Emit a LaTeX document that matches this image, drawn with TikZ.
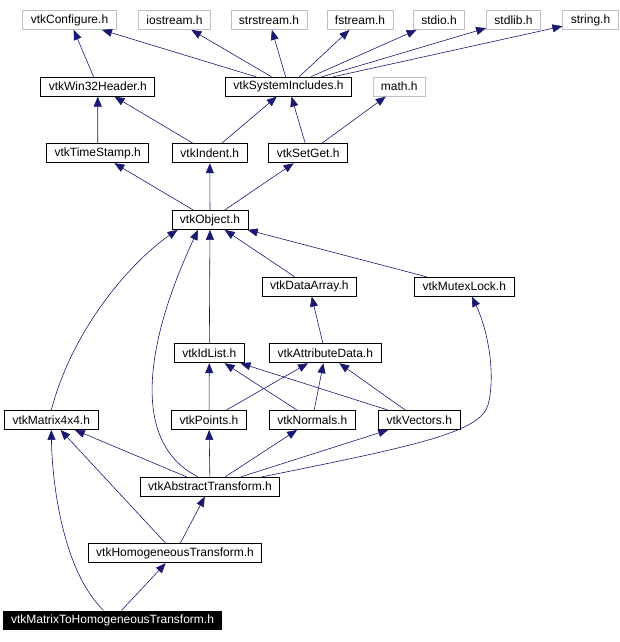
\documentclass[tikz,border=0pt]{standalone}
\usepackage{fontspec}
\setmainfont{Liberation Sans}
\usetikzlibrary{positioning,arrows.meta}
\definecolor{edgeblue}{HTML}{191970}

\begin{document}
\begin{tikzpicture}[x=1pt, y=-1pt,
      every node/.style={font=\fontsize{12}{14}\selectfont, inner xsep=8pt,
                         inner ysep=0pt, minimum height=19pt},
      hdr/.style={draw, line width=0.8pt},
      syshdr/.style={draw=black!25, line width=0.8pt},
      root/.style={fill=black, text=white},
      dep/.style={-{Triangle[length=10pt, width=8pt]}, draw=edgeblue, line width=0.6pt},
  ]
    \useasboundingbox (0,0) rectangle (620,642);

    % system / external headers
    \node[syshdr] (cfg)    at (69.5,20)   {vtkConfigure.h};
    \node[syshdr] (ios)    at (174.5,20)  {iostream.h};
    \node[syshdr] (sstr)   at (269,20)    {strstream.h};
    \node[syshdr] (fstr)   at (360,20)    {fstream.h};
    \node[syshdr] (stdio)  at (439,20)    {stdio.h};
    \node[syshdr] (stdlib) at (513.5,20)  {stdlib.h};
    \node[syshdr] (str)    at (590.5,20)  {string.h};
    \node[syshdr] (math)   at (399.3,86.7) {math.h};

    % vtk headers
    \node[hdr] (win)    at (97.8,86.7)  {vtkWin32Header.h};
    \node[hdr] (sysinc) at (288.5,86.7) {vtkSystemIncludes.h};
    \node[hdr] (tstamp) at (97.7,153.3) {vtkTimeStamp.h};
    \node[hdr] (indent) at (209.8,153.3) {vtkIndent.h};
    \node[hdr] (setget) at (308.2,153.3) {vtkSetGet.h};
    \node[hdr] (obj)    at (210,220)    {vtkObject.h};
    \node[hdr] (darr)   at (309.3,286.7) {vtkDataArray.h};
    \node[hdr] (mutex)  at (464.3,286.7) {vtkMutexLock.h};
    \node[hdr] (idl)    at (209.3,353.3) {vtkIdList.h};
    \node[hdr] (attr)   at (325.3,353.3) {vtkAttributeData.h};
    \node[hdr] (m44)    at (51.3,420)   {vtkMatrix4x4.h};
    \node[hdr] (pts)    at (209,420)    {vtkPoints.h};
    \node[hdr] (nrm)    at (312.3,420)  {vtkNormals.h};
    \node[hdr] (vec)    at (419.3,420)  {vtkVectors.h};
    \node[hdr] (abst)   at (210,486.7)  {vtkAbstractTransform.h};
    \node[hdr] (homog)  at (175,553.3)  {vtkHomogeneousTransform.h};
    \node[root] (m2h)   at (112.5,620)  {vtkMatrixToHomogeneousTransform.h};

    \draw[dep] (win) -- (cfg);
    \draw[dep] (sysinc) -- (cfg);
    \draw[dep] (sysinc) -- (ios);
    \draw[dep] (sysinc) -- (sstr);
    \draw[dep] (sysinc) -- (fstr);
    \draw[dep] (sysinc) -- (stdio);
    \draw[dep] (sysinc) -- (stdlib);
    \draw[dep] (sysinc) -- (str);
    \draw[dep] (tstamp) -- (win);
    \draw[dep] (indent) -- (win);
    \draw[dep] (indent) -- (sysinc);
    \draw[dep] (setget) -- (sysinc);
    \draw[dep] (setget) -- (math);
    \draw[dep] (obj) -- (tstamp);
    \draw[dep] (obj) -- (indent);
    \draw[dep] (obj) -- (setget);
    \draw[dep] (darr) -- (obj);
    \draw[dep] (mutex) -- (obj);
    \draw[dep] (idl) -- (obj);
    \draw[dep] (m44.north) .. controls (75,320) and (140,255) .. ([xshift=6pt]obj.south west);
    \draw[dep] ([xshift=-12pt]abst.north) .. controls (125,440) and (151,330) .. ([xshift=-12pt]obj.south);
    \draw[dep] (attr) -- (darr);
    \draw[dep] (pts) -- (idl);
    \draw[dep] (pts) -- (attr);
    \draw[dep] (nrm) -- (idl);
    \draw[dep] (nrm) -- (attr);
    \draw[dep] (vec) -- (idl);
    \draw[dep] (vec) -- (attr);
    \draw[dep] (abst) -- (m44);
    \draw[dep] (abst) -- (pts);
    \draw[dep] (abst) -- (nrm);
    \draw[dep] (abst) -- (vec);
    \draw[dep] ([xshift=-18pt]abst.north east) .. controls (420,445) and (480,432) .. (488,405)
      .. controls (496,375) and (488,330) .. ([xshift=7.5pt]mutex.south);
    \draw[dep] (homog) -- (m44);
    \draw[dep] (homog) -- (abst);
    \draw[dep] ([xshift=-9pt]m2h.north) .. controls (62,570) and (52,480) .. (m44.south);
    \draw[dep] (m2h) -- (homog);
  \end{tikzpicture}
\end{document}
